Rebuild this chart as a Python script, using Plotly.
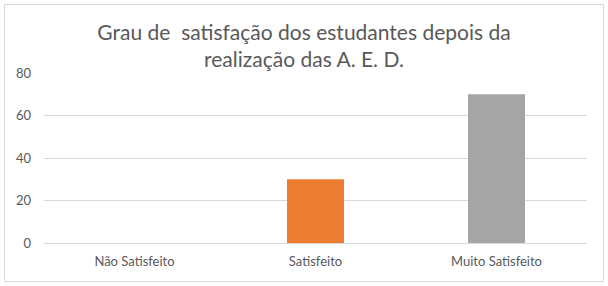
import plotly.graph_objects as go

categories = ["Não Satisfeito", "Satisfeito", "Muito Satisfeito"]
values = [0, 30, 70]
colors = ["#4472C4", "#ED7D31", "#A5A5A5"]
y_ticks = [0, 20, 40, 60, 80]
title_text = "Grau de\u00a0 satisfação dos estudantes depois da<br>realização das A. E. D."

W, H = 608, 286
L, R, T, B = 44, 21, 73, 43

fig = go.Figure(go.Bar(x=categories, y=values, marker=dict(color=colors, line=dict(width=0)),
                       width=0.315, hoverinfo="x+y"))

pw = W - L - R
ph = H - T - B
fig.update_layout(
    width=W, height=H,
    margin=dict(l=L, r=R, t=T, b=B, pad=0),
    paper_bgcolor="white", plot_bgcolor="white",
    font=dict(family="Lato, Carlito, sans-serif", color="#595959", size=12),
    title=dict(text=title_text, x=0.5, xanchor="center", y=1 - 40 / H, yanchor="top",
               font=dict(size=21, color="#595959", family="Lato, sans-serif")),
    showlegend=False,
    xaxis=dict(showgrid=False, showline=False, zeroline=False, ticks="",
               tickfont=dict(size=13, color="#595959"), ticklabelstandoff=9),
    yaxis=dict(range=[0, 80], tickvals=y_ticks, showgrid=True, gridcolor="#D9D9D9", gridwidth=1,
               zeroline=True, zerolinecolor="#D9D9D9", zerolinewidth=1, showline=False, ticks="",
               tickfont=dict(size=13, color="#595959"), ticklabelstandoff=12),
    shapes=[dict(type="rect", xref="paper", yref="paper",
                 x0=(4.5 - L) / pw, x1=(603.5 - L) / pw,
                 y0=(H - B - 281.5) / ph, y1=(H - B - 4.5) / ph,
                 line=dict(color="#D9D9D9", width=1), fillcolor="rgba(0,0,0,0)", layer="below")],
)

fig.write_html("out.html", config={"displayModeBar": False},
               post_script="document.body.style.margin='0';document.body.style.overflow='hidden';")
